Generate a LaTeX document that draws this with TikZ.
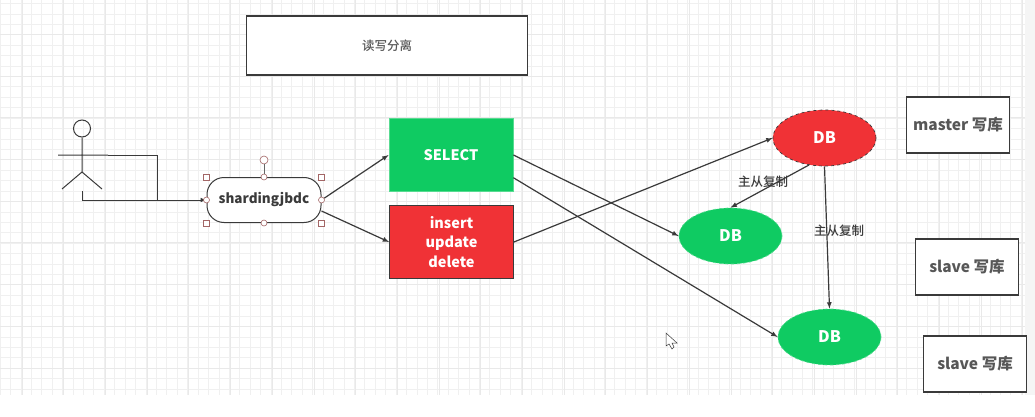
\documentclass[tikz,border=0pt]{standalone}
\usepackage{fontspec}
\setmainfont{Noto Sans CJK SC}
\newfontfamily\medfont{Noto Sans CJK SC Medium}
\usetikzlibrary{shapes.geometric,arrows}
\definecolor{dbgreen}{HTML}{0FCB62}
\definecolor{dbred}{HTML}{F03236}
\definecolor{inkgrey}{HTML}{3A3A3A}
\definecolor{gridline}{HTML}{F0F0F0}
\definecolor{gridmajor}{HTML}{E9E9E9}
\begin{document}
\begin{tikzpicture}[x=1pt,y=-1pt,every path/.style={>=latex},
                    labelbox/.style={draw=inkgrey,line width=1.2pt,fill=white,minimum width=103pt,minimum height=56pt,inner sep=0pt,font=\bfseries\fontsize{15.5}{18}\selectfont,text=inkgrey!85!white},
                    opbox/.style={draw=inkgrey,line width=0.8pt,minimum width=124pt,minimum height=73pt,inner sep=0pt,font=\bfseries\fontsize{14.5}{17}\selectfont,text=white,align=center},
                    dbnode/.style={ellipse,draw=inkgrey,dashed,line width=0.7pt,minimum width=103pt,minimum height=56pt,inner sep=0pt,font=\bfseries\fontsize{16}{19}\selectfont,text=white},
                    link/.style={->,draw=inkgrey,line width=1.2pt},
                    note/.style={font=\medfont\fontsize{12.5}{15}\selectfont,text=inkgrey},
                    handle/.style={draw=black!60!red!60,fill=white,line width=0.6pt,inner sep=0pt},
                    roundhandle/.style={handle,circle,minimum size=6pt},
                    squarehandle/.style={handle,minimum size=6pt}]
  \useasboundingbox (0,0) rectangle (1035,417);
  % background
  \fill[white] (0,0) rectangle (1035,417);
  \fill[black!4] (1025,0) rectangle (1035,395);
  \foreach \gx in {0,10.42,...,1025} \draw[gridline,line width=0.6pt] (\gx,0) -- (\gx,395);
  \foreach \gy in {3.4,13.82,...,395} \draw[gridline,line width=0.6pt] (0,\gy) -- (1025,\gy);
  \foreach \gx in {0,41.7,...,1025} \draw[gridmajor,line width=0.7pt] (\gx+22,0) -- (\gx+22,395);
  \foreach \gy in {34.3,76,...,395} \draw[gridmajor,line width=0.7pt] (0,\gy) -- (1025,\gy);
  % title
  \node[labelbox,minimum width=281pt,minimum height=59pt,font=\medfont\fontsize{12.5}{15}\selectfont] (title) at (387,45.5) {读写分离};
  % person
  \node[draw=inkgrey,circle,line width=1pt,minimum size=17pt,inner sep=0pt] (head) at (82,128.5) {};
  \coordinate (waist) at (82,172);
  \coordinate (armL) at (58,155);
  \coordinate (armR) at (108,155);
  \coordinate (legL) at (62,189);
  \coordinate (legR) at (102,189);
  \coordinate (foot) at (82,191);
  \coordinate (elbowA) at (157,155);
  \coordinate (elbowB) at (157,200);
  \coordinate (elbowC) at (82,200);
  \draw[inkgrey,line width=1pt] (head) -- (waist) (armL) -- (armR) (legL) -- (waist) -- (legR);
  % sharding
  \node[draw=inkgrey,rounded corners=17pt,line width=1pt,fill=white,minimum width=114pt,minimum height=45pt,inner sep=0pt,font=\bfseries\fontsize{13.5}{16}\selectfont,text=inkgrey] (jdbc) at (264,200) {shardingjbdc};
  \draw[inkgrey,line width=1pt] (armR) -- (elbowA) -- (elbowB);
  \draw[link,line width=1pt] (foot) -- (elbowC) -- (jdbc.west);
  % selection handles
  \node[squarehandle] (hnw) at (jdbc.north west) {};
  \node[squarehandle] (hne) at (jdbc.north east) {};
  \node[squarehandle] (hsw) at (jdbc.south west) {};
  \node[squarehandle] (hse) at (jdbc.south east) {};
  \node[roundhandle] (hn) at (jdbc.north) {};
  \node[roundhandle] (hs) at (jdbc.south) {};
  \node[roundhandle] (hw) at (jdbc.west) {};
  \node[roundhandle] (he) at (jdbc.east) {};
  \node[roundhandle,minimum size=8pt] (hrot) at (264,160) {};
  \draw[black!60,line width=0.6pt] (hrot) -- (hn);
  % operations
  \node[opbox,fill=dbgreen,draw=dbgreen!70!white] (select) at (451,155) {SELECT};
  \node[opbox,fill=dbred,font=\bfseries\fontsize{14.5}{19.5}\selectfont] (write) at (451.5,242) {insert\\update\\delete};
  % databases
  \node[dbnode,fill=dbred] (master) at (824.5,138) {DB};
  \node[dbnode,fill=dbgreen,draw=dbgreen!70!white] (slavea) at (730.5,236) {DB};
  \node[dbnode,fill=dbgreen,draw=dbgreen!70!white] (slaveb) at (829.5,337) {DB};
  % captions
  \node[labelbox] (capm) at (958,125) {master 写库};
  \node[labelbox] (capa) at (967,267) {slave 写库};
  \node[labelbox] (capb) at (975,364) {slave 写库};
  % links
  \draw[link] (he) -- (select.west);
  \draw[link] (jdbc.east) ++(0,11) -- (write.west);
  \draw[link] (select.east) -- (slavea.west);
  \draw[link] (select.340) -- (slaveb.west);
  \draw[link] (write.east) -- (master.west);
  \draw[link] (master.240) -- (slavea.north);
  \draw[link] (master.south) -- (slaveb.north);
  \node[note] (repa) at (763,182) {主从复制};
  \node[note] (repb) at (839,231) {主从复制};
  % cursor
  \draw[inkgrey,line width=0.5pt,fill=white] (666,333) -- (666,346) -- (669,344) -- (672,349) -- (674,347) -- (672,343) -- (677,343) -- cycle;
\end{tikzpicture}
\end{document}
